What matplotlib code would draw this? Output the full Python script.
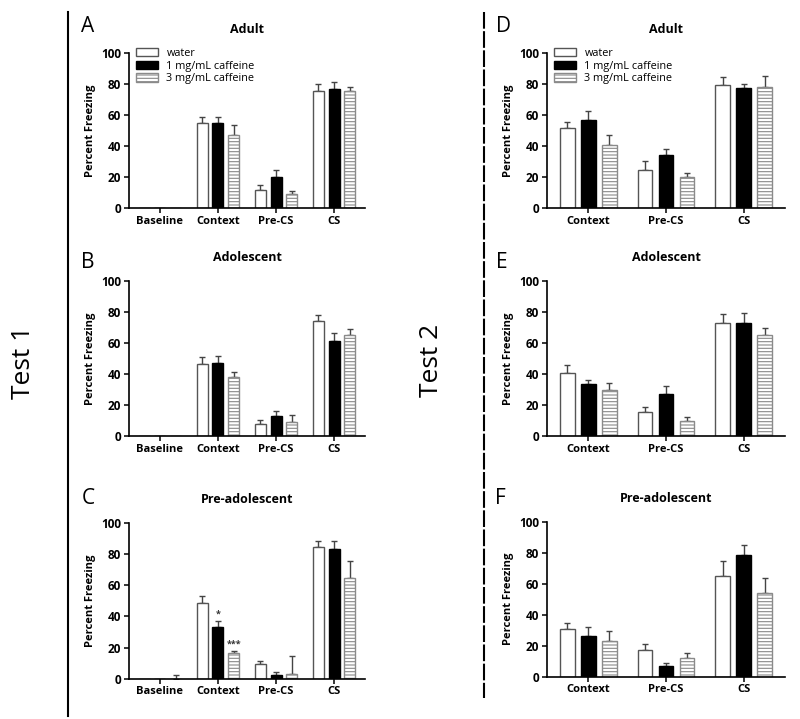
import matplotlib
matplotlib.use("Agg")
import matplotlib.pyplot as plt
import numpy as np

plt.rcParams['font.family'] = ['Open Sans', 'DejaVu Sans']
plt.rcParams['hatch.linewidth'] = 0.8

groups = ["water", "1 mg/mL caffeine", "3 mg/mL caffeine"]
cats_t1 = ["Baseline", "Context", "Pre-CS", "CS"]
cats_t2 = ["Context", "Pre-CS", "CS"]

# Test 1 - Adult (A)
A_water = [0, 54.5, 11.8, 75.2]
A_water_err = [0, 4.0, 2.8, 4.5]
A_c1 = [0, 55.0, 19.7, 76.4]
A_c1_err = [0, 3.5, 4.5, 4.6]
A_c3 = [0, 47.1, 9.2, 75.2]
A_c3_err = [0, 6.4, 1.5, 2.5]

# Test 1 - Adolescent (B)
B_water = [0, 46.1, 7.7, 73.8]
B_water_err = [0, 4.5, 2.4, 4.3]
B_c1 = [0, 46.8, 13.1, 61.4]
B_c1_err = [0, 4.7, 3.2, 4.7]
B_c3 = [0, 38.2, 9.0, 65.2]
B_c3_err = [0, 3.0, 4.5, 3.7]

# Test 1 - Pre-adolescent (C)
C_water = [0, 48.7, 9.2, 84.6]
C_water_err = [0, 4.3, 2.1, 3.4]
C_c1 = [0, 32.9, 2.6, 83.1]
C_c1_err = [0, 4.3, 1.9, 4.9]
C_c3 = [0, 16.2, 3.0, 64.3]
C_c3_err = [2.5, 1.8, 11.3, 10.9]

# Test 2 - Adult (D)
D_water = [51.4, 24.4, 79.2]
D_water_err = [3.8, 5.8, 5.2]
D_c1 = [56.7, 34.3, 77.3]
D_c1_err = [5.8, 4.0, 2.8]
D_c3 = [40.7, 19.7, 77.9]
D_c3_err = [6.2, 2.8, 6.9]

# Test 2 - Adolescent (E)
E_water = [40.8, 15.2, 72.5]
E_water_err = [5.1, 3.5, 5.8]
E_c1 = [33.3, 27.3, 73.0]
E_c1_err = [2.7, 4.7, 6.0]
E_c3 = [29.8, 9.7, 64.8]
E_c3_err = [4.3, 2.5, 4.5]

# Test 2 - Pre-adolescent (F)
F_water = [31.0, 17.2, 64.7]
F_water_err = [3.6, 4.1, 10.1]
F_c1 = [26.5, 6.9, 78.7]
F_c1_err = [5.8, 1.7, 6.0]
F_c3 = [22.8, 11.8, 54.0]
F_c3_err = [6.7, 3.7, 9.7]

W, H = 800, 719
fig = plt.figure(figsize=(W / 100, H / 100), dpi=100)


def px_axes(x0, x1, ytop, ybot):
    return fig.add_axes([x0 / W, 1 - ybot / H, (x1 - x0) / W, (ybot - ytop) / H])


styles = [
    dict(facecolor="white", edgecolor="#555555", hatch=None),
    dict(facecolor="black", edgecolor="black", hatch=None),
    dict(facecolor="white", edgecolor="#8a8a8a", hatch="-----"),
]


def panel(ax, cats, series, errs, title, legend=False):
    x = np.arange(len(cats))
    width = 0.19
    offs = [-0.27, 0, 0.27]
    for vals, err, off, st, lab in zip(series, errs, offs, styles, groups):
        ax.bar(x + off, vals, width, label=lab, linewidth=1.0, zorder=2, **st)
        vals = np.asarray(vals, float)
        err = np.asarray(err, float)
        m = err > 0
        ax.errorbar((x + off)[m], vals[m], yerr=[np.zeros(m.sum()), err[m]],
                    fmt="none", ecolor="#444444", elinewidth=1.0, capsize=2.5,
                    capthick=1.0, zorder=1)
    ax.set_xticks(x)
    ax.set_xticklabels(cats, fontweight="bold", fontsize=8)
    ax.set_ylim(0, 100)
    ax.set_yticks([0, 20, 40, 60, 80, 100])
    for t in ax.get_yticklabels():
        t.set_fontweight("bold")
        t.set_fontsize(8.5)
    ax.set_xlim(-0.53, len(cats) - 1 + 0.53)
    ax.spines["top"].set_visible(False)
    ax.spines["right"].set_visible(False)
    ax.spines["left"].set_linewidth(1.2)
    ax.spines["bottom"].set_linewidth(1.2)
    ax.tick_params(axis="both", length=3.5, width=1.1, pad=2)
    ax.set_ylabel("Percent Freezing", fontweight="bold", fontsize=8, labelpad=4)
    ax.set_title(title, fontweight="bold", fontsize=9, pad=14)
    if legend:
        ax.legend(loc="upper left", bbox_to_anchor=(0.03, 1.03), frameon=False,
                  fontsize=7.8, handlelength=2.0, handleheight=0.8,
                  labelspacing=0.15, handletextpad=0.8, borderaxespad=0,
                  borderpad=0)


axA = px_axes(129, 365, 52.7, 208)
panel(axA, cats_t1, [A_water, A_c1, A_c3], [A_water_err, A_c1_err, A_c3_err], "Adult", legend=True)
axB = px_axes(129, 365, 280.7, 436)
panel(axB, cats_t1, [B_water, B_c1, B_c3], [B_water_err, B_c1_err, B_c3_err], "Adolescent")
axC = px_axes(129, 365, 522.7, 678.7)
panel(axC, cats_t1, [C_water, C_c1, C_c3], [C_water_err, C_c1_err, C_c3_err], "Pre-adolescent")
axC.text(1, C_c1[1] + C_c1_err[1] + 1.5, "*", ha="center", va="bottom", fontsize=6.5,
         fontweight="bold", color="#333333")
axC.text(1.27, C_c3[1] + C_c3_err[1] + 1.5, "***", ha="center", va="bottom", fontsize=6.5,
         fontweight="bold", color="#333333")

axD = px_axes(547, 785, 52.7, 208)
panel(axD, cats_t2, [D_water, D_c1, D_c3], [D_water_err, D_c1_err, D_c3_err], "Adult", legend=True)
axE = px_axes(547, 785, 280.7, 436)
panel(axE, cats_t2, [E_water, E_c1, E_c3], [E_water_err, E_c1_err, E_c3_err], "Adolescent")
axF = px_axes(547, 785, 521.7, 676.7)
panel(axF, cats_t2, [F_water, F_c1, F_c3], [F_water_err, F_c1_err, F_c3_err], "Pre-adolescent")

# panel letters
for lab, (px, py) in {"A": (88, 27), "B": (88, 262), "C": (88, 498),
                      "D": (503, 27), "E": (502, 262), "F": (500, 498)}.items():
    fig.text(px / W, 1 - py / H, lab, ha="center", va="center", fontsize=15)

# separators
fig.add_artist(plt.Line2D([68 / W, 68 / W], [1 - 12 / H, 1 - 716 / H], color="black", lw=1.5))
fig.add_artist(plt.Line2D([484 / W, 484 / W], [1 - 12 / H, 1 - 698 / H], color="black", lw=1.5,
                          linestyle=(0, (8, 1.2))))

fig.text(24 / W, 1 - 362 / H, "Test 1", rotation=90, ha="center", va="center", fontsize=19)
fig.text(432 / W, 1 - 360 / H, "Test 2", rotation=90, ha="center", va="center", fontsize=19)

fig.savefig("out.png", dpi=100)
